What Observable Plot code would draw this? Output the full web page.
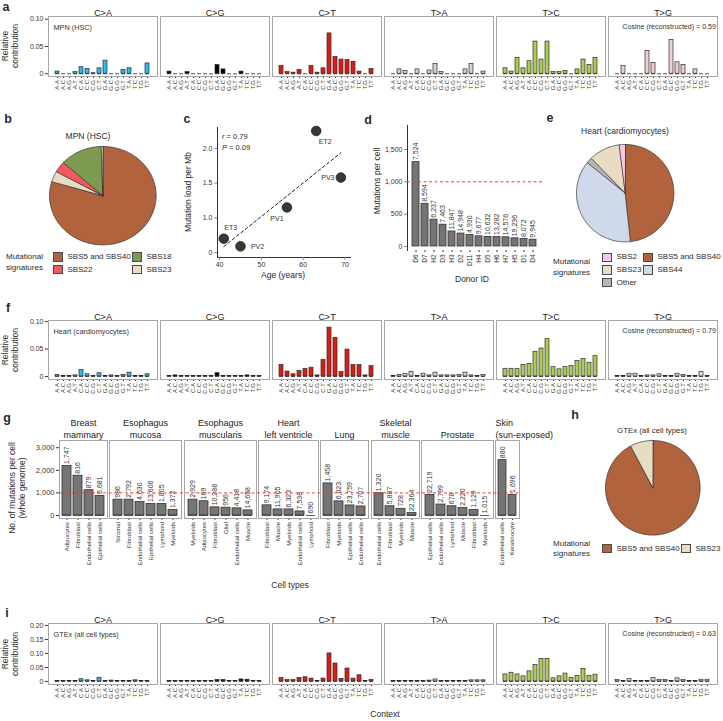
<!DOCTYPE html>
<html><head><meta charset="utf-8">
<script src="https://cdn.jsdelivr.net/npm/d3@7"></script>
<script src="https://cdn.jsdelivr.net/npm/@observablehq/plot@0.6"></script>
<style>
html,body{margin:0;padding:0;background:#fff;}
#root{position:relative;width:723px;height:721px;overflow:hidden;font-family:"Liberation Sans",Arial,Helvetica,sans-serif;color:#2a2a2a;}
#root svg{overflow:visible;}
.t{position:absolute;white-space:pre;line-height:1.3;}
.sw{position:absolute;width:9.5px;height:9.5px;border:0.7px solid #4a4a4a;box-sizing:border-box;}
</style></head><body><div id="root"></div>
<script>
// ---------------- DATA ----------------
const contexts = ["A.A","A.C","A.G","A.T","C.A","C.C","C.G","C.T","G.A","G.C","G.G","G.T","T.A","T.C","T.G","T.T"];
const mutTypes = ["C>A","C>G","C>T","T>A","T>C","T>G"];
const mutColors = ["#2EBAED","#000000","#DE1C14","#D4D2D2","#ADCC54","#F0D0CE"];

// panel a: MPN (HSC)
const aCA = [0.004,0,0,0.003,0.012,0.009,0.001,0.010,0.024,0,0,0.007,0.010,0,0,0.019];
const aCG = [0.004,0,0,0.003,0,0,0,0,0.016,0.008,0,0,0.004,0,0,0];
const aCT = [0.014,0.003,0.002,0.007,0,0.014,0.002,0.010,0.074,0.031,0.026,0.025,0.022,0.004,0,0.009];
const aTA = [0,0.008,0.005,0,0.008,0,0.006,0.018,0.003,0,0,0,0.008,0.018,0,0.004];
const aTC = [0.010,0.004,0.029,0.010,0.023,0.059,0.026,0.059,0.003,0.003,0.005,0,0.008,0.026,0.016,0.029];
const aTG = [0,0.014,0,0,0,0.042,0.020,0,0,0.062,0.021,0.016,0,0.008,0,0];

// panel f: Heart (cardiomyocytes)
const fCA = [0.003,0.001,0.001,0.002,0.012,0.004,0.001,0.006,0.001,0.002,0.001,0.003,0.007,0.001,0.001,0.004];
const fCG = [0.001,0.002,0.001,0.001,0.001,0.001,0.001,0.001,0.006,0.001,0.001,0.001,0.001,0.002,0.001,0.001];
const fCT = [0.021,0.009,0.004,0.010,0.014,0.016,0.002,0.030,0.089,0.070,0.008,0.049,0.021,0.021,0.002,0.019];
const fTA = [0.001,0.003,0.005,0.008,0.001,0.005,0.002,0.007,0.002,0.002,0.002,0.003,0.007,0.002,0.001,0.003];
const fTC = [0.014,0.014,0.014,0.021,0.023,0.045,0.051,0.068,0.017,0.013,0.017,0.019,0.028,0.032,0.025,0.037];
const fTG = [0.001,0.001,0.005,0.005,0.001,0.002,0.002,0.004,0.001,0.001,0.005,0.003,0.001,0.001,0.008,0.001];

// panel i: GTEx (all cell types)
const iCA = [0.001,0.001,0.001,0.001,0.008,0.004,0.001,0.013,0.001,0.003,0.001,0.001,0.001,0.004,0.001,0.001];
const iCG = [0.001,0.001,0.001,0.001,0.002,0.002,0.001,0.001,0.005,0.005,0.001,0.001,0.007,0.006,0.001,0.001];
const iCT = [0.012,0.005,0.005,0.012,0.015,0.010,0.002,0.010,0.100,0.064,0.009,0.046,0.010,0.022,0.001,0.005];
const iTA = [0.001,0.001,0.001,0.001,0.001,0.002,0.003,0.007,0.001,0.001,0.001,0.001,0.001,0.004,0.004,0.004];
const iTC = [0.025,0.031,0.025,0.018,0.036,0.059,0.080,0.080,0.011,0.018,0.028,0.013,0.020,0.045,0.020,0.024];
const iTG = [0.005,0.001,0.008,0.001,0.001,0.001,0.012,0.005,0.005,0.001,0.011,0.005,0.001,0.001,0.006,0.006];

// pies
const bNames = ["SBS5 and SBS40","SBS23","SBS22","SBS18","Other"];
const bShares = [0.796,0.035,0.036,0.128,0.005];
const bColors = ["#b0633c","#e8dcc2","#f2585f","#7c9a50","#d9d9d9"];
const eNames = ["SBS5 and SBS40","SBS44","Other","SBS23","SBS2"];
const eShares = [0.483,0.375,0.019,0.103,0.020];
const eColors = ["#b0633c","#cfd9ea","#b5b5b5","#e8dcc2","#f8c8e4"];
const hNames = ["SBS5 and SBS40","SBS23"];
const hShares = [0.922,0.078];
const hColors = ["#b0633c","#e8dcc2"];

// panel c
const cDonors = ["ET3","PV2","PV1","ET2","PV3"];
const cAge = [41.0,45.0,56.1,63.1,69.0];
const cLoad = [0.70,0.59,1.15,2.25,1.58];
const cAgeTicks = [40,50,60,70];
const cLoadTicks = [0.5,1.0,1.5,2.0];
const cLoadTickLabels = ["0","1.0","1.5","2.0"];

// panel d
const dDonors = ["D6","D7","H2","D3","H3","D2","D11","H4","D5","H6","H7","H5","D1","D4"];
const dValues = [1305,660,415,337,232,200,179,158,147,147,142,126,116,105];
const dLabels = ["7,524","8,594","6,237","7,463","11,847","14,948","4,930","9,677","10,632","13,282","14,576","19,236","8,072","9,945"];
const dTicks = [0,500,1000,1500];

// panel g
const gTissues = ["Breast\nmammary","Esophagus\nmucosa","Esophagus\nmuscularis","Heart\nleft ventricle","Lung","Skeletal\nmuscle","Prostate","Skin\n(sun-exposed)"];
const gCells = [
  ["Adipocytes","Fibroblast","Endothelial cells","Epithelial cells"],
  ["Stromal","Fibroblast","Endothelial cells","Epithelial cells","Lymphoid","Myeloids"],
  ["Myeloids","Adipocytes","Fibroblast","Glial","Endothelial cells","Muscle"],
  ["Fibroblast","Muscle","Myeloids","Endothelial cells","Lymphoid"],
  ["Fibroblast","Myeloids","Epithelial cells","Endothelial cells"],
  ["Endothelial cells","Fibroblast","Myeloids","Muscle"],
  ["Epithelial cells","Endothelial cells","Lymphoid","Muscle","Fibroblast","Myeloids"],
  ["Endothelial cells","Keratinocyte"]
];
const gValues = [
  [2190,1760,1120,865],
  [700,700,600,510,510,240],
  [700,630,360,345,315,225],
  [450,270,270,180,0],
  [1420,625,445,400],
  [985,410,295,105],
  [910,485,410,338,250,0],
  [2450,910]
];
const gLabels = [
  ["1,747","816","879","5,681"],
  ["986","2,792","4,630","13,606","1,805","1,372"],
  ["2,929","169","10,288","956","4,418","14,658"],
  ["9,174","11,905","6,323","7,538","690"],
  ["1,458","6,023","23,759","2,707"],
  ["1,320","5,887","728","22,364"],
  ["22,719","2,799","678","2,220","1,129","1,015"],
  ["880","1,696"]
];
const gTicks = [0,1000,2000,3000];

// ---------------- HELPERS ----------------
const FONT = '"Liberation Sans", Arial, Helvetica, sans-serif';
const comma = d3.format(",");
const root = document.getElementById("root");
const baseStyle = (fs) => ({fontFamily: FONT, fontSize: fs + "px", color: "#333", background: "transparent", overflow: "visible"});

function place(node, left, top) {
  node.style.position = "absolute";
  node.style.left = left + "px";
  node.style.top = top + "px";
  node.style.maxWidth = "none";
  node.style.background = "transparent";
  node.style.overflow = "visible";
  root.appendChild(node);
  return node;
}
function txt(s, x, y, o = {}) {
  const el = document.createElement("div");
  el.className = "t";
  if (o.html) el.innerHTML = s; else el.textContent = s;
  el.style.fontSize = (o.size || 8) + "px";
  if (o.bold) el.style.fontWeight = "700";
  if (o.align) el.style.textAlign = o.align;
  if (o.lh) el.style.lineHeight = o.lh;
  el.style.left = x + "px"; el.style.top = y + "px";
  const a = o.anchor || "middle";
  const tx = a === "start" ? "0" : a === "end" ? "-100%" : "-50%";
  el.style.transform = `translate(${tx},-50%)` + (o.rotate ? ` rotate(${o.rotate}deg)` : "");
  root.appendChild(el);
  return el;
}
function swatch(color, x, y) {
  const s = document.createElement("div");
  s.className = "sw";
  s.style.left = x + "px"; s.style.top = (y - 4.75) + "px";
  s.style.background = color;
  root.appendChild(s);
}
function setAxisFont(svg, prefix, size) {
  svg.querySelectorAll(`[aria-label^="${prefix}"] text`).forEach(t => t.setAttribute("font-size", size));
}

// ---------------- SIGNATURE PANELS (a, f, i) ----------------
function signaturePanel(cfg) {
  const rows = mutTypes.flatMap((t, k) => contexts.map((c, i) => ({type: t, context: c, value: cfg.values[k][i]})));
  const chart = Plot.plot({
    width: 723, height: cfg.height, marginLeft: 47, marginRight: 4, marginTop: 16, marginBottom: cfg.height - 16 - cfg.box,
    style: baseStyle(6),
    facet: {data: rows, x: "type"},
    fx: {domain: mutTypes, padding: 0.025, axis: null, label: null},
    x: {domain: contexts, padding: 0.32, tickRotate: -90, tickSize: 2, tickPadding: 1.5, label: null},
    y: {domain: cfg.yDomain, ticks: cfg.yTicks, tickFormat: d => d === 0 ? "0" : d.toFixed(2), tickSize: 3, tickPadding: 2, label: null},
    color: {domain: mutTypes, range: mutColors},
    marks: [
      Plot.barY(rows, {x: "context", y: "value", fill: "type", stroke: "#2b2b2b", strokeWidth: 0.7}),
      Plot.tickY(rows, {x: "context", y: () => 0, stroke: "#2b2b2b", strokeWidth: 0.8}),
      Plot.frame({stroke: "#a6a6a6", strokeWidth: 1}),
      Plot.text(rows, Plot.selectFirst({text: "type", frameAnchor: "top", dy: -6.5, fontSize: 9, fill: "#222"})),
      Plot.text(rows, {filter: d => d.type === mutTypes[0] && d.context === contexts[0], text: () => cfg.noteLeft,
        frameAnchor: "top-left", textAnchor: "start", dx: 5, dy: 8, fontSize: 7.3, fill: "#333"}),
      Plot.text(rows, {filter: d => d.type === mutTypes[5] && d.context === contexts[0], text: () => cfg.noteRight,
        frameAnchor: "top-right", textAnchor: "end", dx: -1.5, dy: 7.5, fontSize: 7.1, fill: "#333"})
    ]
  });
  setAxisFont(chart, "y-axis", 7);
  place(chart, 0, cfg.top);
  txt("Relative\ncontribution", 11, cfg.top + 16 + cfg.box / 2, {size: 8.5, rotate: -90, align: "center", lh: 1.15});
}

signaturePanel({values: [aCA,aCG,aCT,aTA,aTC,aTG], top: 0, height: 98, box: 60,
  yDomain: [-0.005, 0.105], yTicks: [0, 0.05, 0.10], noteLeft: "MPN (HSC)", noteRight: "Cosine (reconstructed) = 0.59"});
signaturePanel({values: [fCA,fCG,fCT,fTA,fTC,fTG], top: 304, height: 97, box: 59,
  yDomain: [-0.0055, 0.102], yTicks: [0, 0.05, 0.10], noteLeft: "Heart (cardiomyocytes)", noteRight: "Cosine (reconstructed) = 0.79"});
signaturePanel({values: [iCA,iCG,iCT,iTA,iTC,iTG], top: 607, height: 99, box: 61,
  yDomain: [-0.011, 0.207], yTicks: [0, 0.05, 0.10, 0.15, 0.20], noteLeft: "GTEx (all cell types)", noteRight: "Cosine (reconstructed) = 0.63"});
txt("Context", 385, 715, {size: 8.5});

// ---------------- PIES (b, e, h) ----------------
function pie(names, shares, colors, cx, cy, rx, ry) {
  const items = names.map((n, i) => ({name: n, value: shares[i], color: colors[i]}));
  const arcs = d3.pie().sort(null).value(d => d.value)(items);
  const marks = arcs.map(a => {
    const n = Math.max(2, Math.ceil((a.endAngle - a.startAngle) / 0.02));
    const pts = [[0, 0]];
    for (let j = 0; j <= n; j++) {
      const t = a.startAngle + (a.endAngle - a.startAngle) * j / n;
      pts.push([Math.sin(t), Math.cos(t)]);
    }
    return Plot.line(pts, {x: d => d[0], y: d => d[1], fill: a.data.color, stroke: "#2f2f2f", strokeWidth: 0.7, curve: "linear-closed"});
  });
  const chart = Plot.plot({width: 2 * rx, height: 2 * ry, margin: 0, style: baseStyle(8),
    x: {domain: [-1, 1], axis: null}, y: {domain: [-1, 1], axis: null}, marks});
  place(chart, cx - rx, cy - ry);
}
pie(bNames, bShares, bColors, 102.7, 194.7, 53.3, 49.2);
pie(eNames, eShares, eColors, 624.7, 193, 48.7, 48.7);
pie(hNames, hShares, hColors, 652.3, 487.5, 47.3, 47.3);

txt("MPN (HSC)", 88, 137, {size: 8.5});
txt("Heart (cardiomyocytes)", 625, 132, {size: 8.5});
txt("GTEx (all cell types)", 652, 431, {size: 7.8});

// legends
function legend(title, tx, ty, tAnchor, names, colors, slots) {
  txt(title, tx, ty, {size: 8, anchor: tAnchor, align: tAnchor === "end" ? "right" : "left", lh: 1.35});
  names.forEach((n, i) => {
    const [x, y] = slots[i];
    swatch(colors[i], x, y);
    txt(n, x + 14.5, y, {size: 8, anchor: "start"});
  });
}
legend("Mutational\nsignatures", 6, 263, "start",
  ["SBS5 and SBS40","SBS18","SBS22","SBS23"], [bColors[0], bColors[3], bColors[2], bColors[1]],
  [[53, 257], [132, 257], [53, 269.6], [132, 269.6]]);
legend("Mutational\nsignatures", 590, 268, "end",
  ["SBS2","SBS5 and SBS40","SBS23","SBS44","Other"], [eColors[4], eColors[0], eColors[3], eColors[1], eColors[2]],
  [[602, 257.3], [643, 257.3], [602, 270], [643, 270], [602, 282.7]]);
legend("Mutational\nsignatures", 590, 549.5, "end",
  ["SBS5 and SBS40","SBS23"], [hColors[0], hColors[1]],
  [[602, 548.5], [681, 548.5]]);

// ---------------- PANEL c ----------------
{
  const rows = cDonors.map((d, i) => ({id: d, age: cAge[i], load: cLoad[i]}));
  const offs = {ET3: [7, -11], PV2: [17, 0], PV1: [-10, 11], ET2: [9, 11], PV3: [-13, 0]};
  const chart = Plot.plot({
    width: 180, height: 158, marginLeft: 37, marginRight: 10, marginTop: 10, marginBottom: 18,
    style: baseStyle(7),
    x: {domain: [39.5, 71.3], ticks: cAgeTicks, tickSize: 3, tickPadding: 2, line: true, label: null},
    y: {domain: [0.43, 2.30], ticks: cLoadTicks, tickFormat: d => cLoadTickLabels[cLoadTicks.indexOf(d)], tickSize: 3, tickPadding: 2, line: true, label: null},
    marks: [
      Plot.linearRegressionY(rows, {x: "age", y: "load", stroke: "#222", strokeWidth: 1, strokeDasharray: "3,2.5", ci: 0}),
      Plot.dot(rows, {x: "age", y: "load", r: 4.8, fill: "#383838", stroke: "#1a1a1a", strokeWidth: 0.8}),
      ...cDonors.map(id => Plot.text(rows, {filter: d => d.id === id, x: "age", y: "load", text: "id",
        dx: offs[id][0], dy: offs[id][1], fontSize: 7, fill: "#333"}))
    ]
  });
  chart.querySelectorAll('[aria-label^="x-axis"] path, [aria-label^="y-axis"] path, [aria-label^="x-axis"] line, [aria-label^="y-axis"] line').forEach(p => p.setAttribute("stroke", "#8a8a8a"));
  place(chart, 180, 117);
  txt("<i>r</i> = 0.79", 222, 137, {html: true, size: 7.5, anchor: "start"});
  txt("<i>P</i> = 0.09", 222, 148, {html: true, size: 7.5, anchor: "start"});
  txt("Mutation load per Mb", 189, 192, {size: 8.5, rotate: -90});
  txt("Age (years)", 283, 276, {size: 8.5});
}

// ---------------- PANEL d ----------------
{
  const rows = dDonors.map((d, i) => ({donor: d, value: dValues[i], label: dLabels[i]}));
  const chart = Plot.plot({
    width: 175, height: 160, marginLeft: 37, marginRight: 3, marginTop: 10, marginBottom: 25,
    style: baseStyle(6.5),
    x: {domain: dDonors, padding: 0.22, tickRotate: -90, tickSize: 2, tickPadding: 2, label: null},
    y: {domain: [-62, 1871], ticks: dTicks, tickFormat: comma, tickSize: 3, tickPadding: 2, line: true, label: null},
    marks: [
      Plot.barY(rows, {x: "donor", y: "value", fill: "#757575", stroke: "#333", strokeWidth: 0.8}),
      Plot.ruleY([1000], {stroke: "#f03c3c", strokeDasharray: "3,2.5", strokeWidth: 1}),
      Plot.text(rows, {x: "donor", y: "value", text: "label", rotate: -90, textAnchor: "start", dy: -2, fontSize: 7, fill: "#333"})
    ]
  });
  setAxisFont(chart, "y-axis", 7);
  chart.querySelectorAll('[aria-label^="y-axis"] path, [aria-label^="y-axis"] line').forEach(p => p.setAttribute("stroke", "#8a8a8a"));
  place(chart, 370, 115);
  txt("Mutations per cell", 378, 181, {size: 8.5, rotate: -90});
  txt("Donor ID", 472, 280, {size: 8.5});
}

// ---------------- PANEL g ----------------
{
  const gTop = 415, gH = 143, gMT = 25, gMB = 40, yDom = [-133, 3319];
  const perBar = 12, gap = 2.3, x0 = 59;
  let x = x0;
  gTissues.forEach((tissue, k) => {
    const rows = gCells[k].map((c, i) => ({cell: c, value: gValues[k][i], label: gLabels[k][i]}));
    const w = gCells[k].length * perBar;
    const last = k === gTissues.length - 1;
    const chart = Plot.plot({
      width: w, height: gH, marginLeft: 0, marginRight: 0, marginTop: gMT, marginBottom: gMB,
      style: baseStyle(6),
      x: {domain: gCells[k], padding: 0.22, tickRotate: -90, tickSize: 2, tickPadding: 1.5, label: null},
      y: {domain: yDom, axis: null},
      marks: [
        Plot.barY(rows, {x: "cell", y: "value", fill: "#757575", stroke: "#333", strokeWidth: 0.8}),
        Plot.tickY(rows, {x: "cell", y: () => 0, stroke: "#333", strokeWidth: 0.8}),
        Plot.frame({stroke: "#a6a6a6", strokeWidth: 1}),
        Plot.text(rows, {x: "cell", y: "value", text: "label", rotate: -90, textAnchor: "start", dy: -2, fontSize: 7, fill: "#333"}),
        Plot.text([tissue], {text: d => d, frameAnchor: last ? "top-left" : "top", textAnchor: last ? "start" : "middle",
          lineAnchor: "bottom", dy: -3, fontSize: 9, lineHeight: 1.25, fill: "#222"})
      ]
    });
    place(chart, x, gTop);
    x += w + gap;
  });
  // overlay: y axis + reference line across all facets
  const overlay = Plot.plot({
    width: x - gap, height: gH, marginLeft: x0, marginRight: 0, marginTop: gMT, marginBottom: gMB,
    style: baseStyle(7.5),
    y: {domain: yDom, ticks: gTicks, tickFormat: comma, tickSize: 3, tickPadding: 2, label: null},
    marks: [Plot.ruleY([1000], {stroke: "#f03c3c", strokeDasharray: "3,2.5", strokeWidth: 1})]
  });
  overlay.style.pointerEvents = "none";
  place(overlay, 0, gTop);
  txt("No. of mutations per cell\n(whole genome)", 17, 488, {size: 8.5, rotate: -90, align: "center", lh: 1.2});
  txt("Cell types", 290, 586, {size: 8.5});
}

// ---------------- PANEL LETTERS ----------------
[["a", 6, 7], ["b", 8, 119], ["c", 187, 119], ["d", 368, 120], ["e", 550, 118],
 ["f", 8, 308], ["g", 7, 418], ["h", 575, 415], ["i", 7, 613]].forEach(([s, x, y]) => txt(s, x, y, {size: 12.5, bold: true}));
</script></body></html>
